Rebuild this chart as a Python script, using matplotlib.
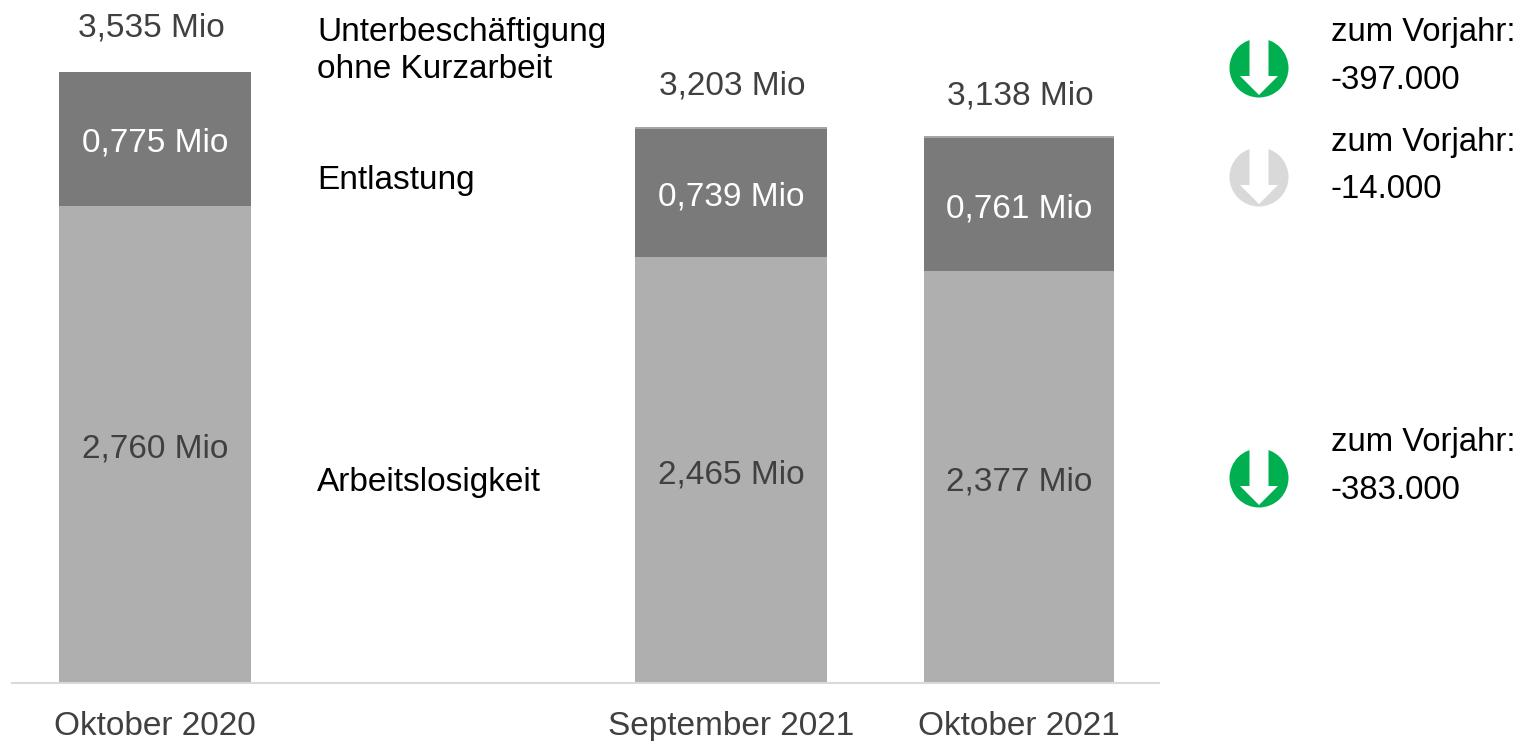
import matplotlib
matplotlib.use("Agg")
import matplotlib.pyplot as plt
from matplotlib.patches import Circle, Polygon
import numpy as np

plt.rcParams['font.family'] = ['Liberation Sans', 'DejaVu Sans']

W, H = 1526, 741

categories = ['Oktober 2020', '', 'September 2021', 'Oktober 2021']
# bar heights, the printed labels are kept apart
arbeitslos = [2.760, 0, 2.465, 2.384]
entlastung = [0.775, 0, 0.739, 0.767]
ohne_kurzarbeit = [0, 0, 0.015, 0.014]
arbeitslos_labels = ['2,760 Mio', '', '2,465 Mio', '2,377 Mio']
entlastung_labels = ['0,775 Mio', '', '0,739 Mio', '0,761 Mio']
total_labels = ['3,535 Mio', '', '3,203 Mio', '3,138 Mio']

series_names = ['Unterbeschäftigung\nohne Kurzarbeit', 'Entlastung', 'Arbeitslosigkeit']
change_labels = ['-397.000', '-14.000', '-383.000']
change_colors = ['#00B050', '#D9D9D9', '#00B050']

LIGHT = '#AFAFAF'
DARK = '#7A7A7A'
TEXT = '#404040'
FS = 24

fig = plt.figure(figsize=(W / 100, H / 100), dpi=100)
ax = fig.add_axes([11 / W, (H - 683) / H, 1152 / W, 683 / H])

x = np.arange(len(categories))
a = np.array(arbeitslos)
e = np.array(entlastung)
o = np.array(ohne_kurzarbeit)
widths = [0.667, 0.667, 0.667, 0.66]
ax.bar(x, a, width=widths, color=LIGHT)
ax.bar(x, e, width=widths, bottom=a, color=DARK)
ax.bar(x, o, width=widths, bottom=a + e, color='#A6A6A6')

ax.set_xlim(-0.5, 3.5)
ax.set_ylim(0, 683 / 172.85)
ax.set_yticks([])
ax.set_xticks(x)
ax.set_xticklabels(categories, fontsize=FS, color=TEXT)
ax.tick_params(axis='x', length=0, pad=20.5)
for side in ['top', 'left', 'right']:
    ax.spines[side].set_visible(False)
ax.spines['bottom'].set_color('#D9D9D9')
ax.spines['bottom'].set_linewidth(1.5)
ax.spines['bottom'].set_bounds(-0.497, 3.487)
ax.patch.set_alpha(0)

# the three totals do not sit at the same height over their bars
total_offsets = [(-2.5, 31.7), (0, 0), (1, 28.9), (1, 28.8)]
for i in x:
    if not categories[i]:
        continue
    ax.annotate(arbeitslos_labels[i], (i, a[i] / 2), xytext=(0, -3.5), textcoords='offset points',
                ha='center', va='center', fontsize=FS, color=TEXT)
    ax.annotate(entlastung_labels[i], (i, a[i] + e[i] / 2), xytext=(0, -3), textcoords='offset points',
                ha='center', va='center', fontsize=FS, color='white')
    ax.annotate(total_labels[i], (i, a[i] + e[i] + o[i]), xytext=total_offsets[i], textcoords='offset points',
                ha='center', va='center', fontsize=FS, color=TEXT)

# overlay in pixels for the side notes and the arrow icons
ov = fig.add_axes([0, 0, 1, 1])
ov.set_xlim(0, W)
ov.set_ylim(H, 0)
ov.axis('off')

for name, ypos in zip(series_names, [51, 180, 483]):
    ov.text(317, ypos, name, ha='left', va='center', fontsize=FS, color='black', linespacing=1.27)

for label, color, cy in zip(change_labels, change_colors, [68, 177, 478]):
    ov.add_patch(Circle((1259, cy), 29.5, color=color, lw=0))
    arrow = [[1249.5, cy - 32], [1268.5, cy - 32], [1268.5, cy + 8], [1278, cy + 8],
             [1259, cy + 27], [1240, cy + 8], [1249.5, cy + 8]]
    ov.add_patch(Polygon(arrow, closed=True, color='white', lw=0))
    ov.text(1331, cy - 35, 'zum Vorjahr:', ha='left', va='center', fontsize=23.7, color='black')
    ov.text(1331, cy + 12.5, label, ha='left', va='center', fontsize=23.7, color='black')

fig.savefig('out.png', dpi=100)
